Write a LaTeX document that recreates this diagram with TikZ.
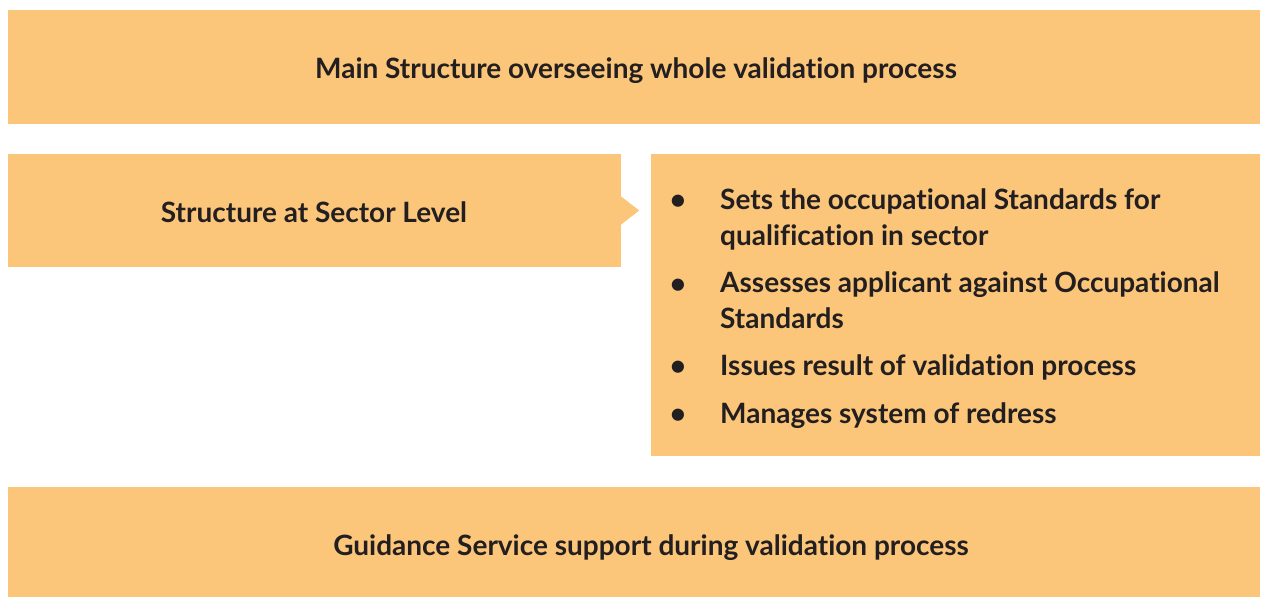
\documentclass[tikz,border=0pt]{standalone}
\usepackage{fontspec}
\setmainfont{Lato}[Ligatures=NoCommon]
\usepackage{tikz}
\definecolor{boxfill}{HTML}{FBC679}
\definecolor{ink}{HTML}{231F20}
\tikzset{x=1pt,y=-1pt}
\tikzstyle{band}=[rectangle,fill=boxfill,inner sep=0pt,text=ink]
\tikzstyle{itemtext}=[inner sep=0pt,text=ink,align=left,font=\fontsize{28}{36}\selectfont\bfseries]

\begin{document}
\begin{tikzpicture}
	\useasboundingbox (0,0) rectangle (1261,597);
	\node at (634,67) [band,minimum width=1252pt,minimum height=114pt] (main) {};
	\node at (636,71) [itemtext] (maintext) {Main Structure overseeing whole validation process};
	\node at (314.5,210.5) [band,minimum width=613pt,minimum height=113pt] (sector) {};
	\node at (314,212) [itemtext] (sectortext) {Structure at Sector Level};
	\fill[boxfill] (sector.east) ++(0,-14) -- ++(18,14) -- ++(-18,14) -- cycle;
	\node at (955.5,305) [band,minimum width=609pt,minimum height=302pt] (tasks) {};
	\node at (634,542) [band,minimum width=1252pt,minimum height=110pt] (guide) {};
	\node at (651,548) [itemtext] (guidetext) {Guidance Service support during validation process};
	% bullet list (base anchor sits on the last line)
	\node at (678,209) [itemtext,anchor=base] (b1) {\textbullet};
	\node at (720,245) [itemtext,anchor=base west] (t1) {Sets the occupational Standards for\\qualification in sector};
	\node at (678,293) [itemtext,anchor=base] (b2) {\textbullet};
	\node at (720,328) [itemtext,anchor=base west] (t2) {Assesses applicant against Occupational\\Standards};
	\node at (678,375) [itemtext,anchor=base] (b3) {\textbullet};
	\node at (720,375) [itemtext,anchor=base west] (t3) {Issues result of validation process};
	\node at (678,423) [itemtext,anchor=base] (b4) {\textbullet};
	\node at (720,423) [itemtext,anchor=base west] (t4) {Manages system of redress};
\end{tikzpicture}
\end{document}
